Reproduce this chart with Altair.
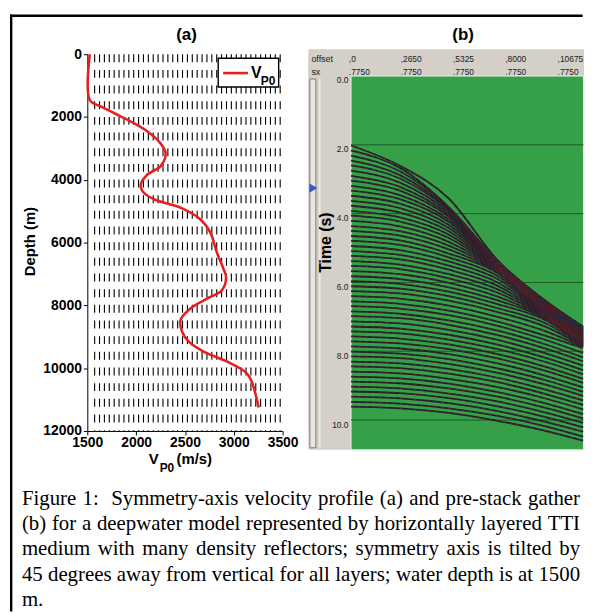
import altair as alt
import pandas as pd

FONT = "Liberation Sans"
SERIF = "Liberation Serif"

# ---------------- panel (a): symmetry-axis velocity profile ----------------
depth_m = [0, 1460, 1670, 1880, 2145, 2460, 2780, 3145, 3565, 3830, 4150, 4360,
           4620, 4885, 5255, 5675, 6310, 6835, 7100, 7520, 7785, 8100, 8470,
           8840, 9155, 9470, 9785, 10155, 10420, 11250]
vp0_ms = [1525, 1525, 1642, 1777, 1947, 2116, 2234, 2302, 2251, 2116, 2048, 2065,
          2183, 2454, 2657, 2759, 2826, 2894, 2921, 2877, 2725, 2556, 2454,
          2471, 2539, 2691, 2928, 3131, 3182, 3255]
vel_ticks = [1500, 2000, 2500, 3000, 3500]
depth_ticks = [0, 2000, 4000, 6000, 8000, 10000, 12000]
hatch_vel = list(range(1575, 3476, 50))   # dashed density-reflector texture columns

# ---------------- panel (b): pre-stack gather ----------------
header_offsets = [0, 2650, 5325, 8000, 10675]
header_offset_text = [",0", ",2650", ",5325", ",8000", ",10675"]
header_sx_text = [".7750", ".7750", ".7750", ".7750", ".7750"]
time_ticks = [0, 2, 4, 6, 8, 10]
time_tick_text = ["0.0", "2.0", "4.0", "6.0", "8.0", "10.0"]
timing_lines = [2, 4, 6, 8, 10]
trace_offsets = [0, 2500, 5000, 7500, 10000, 11870]
reflector_times = [
    [2.02, 2.61, 3.56, 5.36, 6.55, 7.28],
    [2.17, 2.67, 3.81, 5.38, 6.57, 7.30],
    [2.31, 2.77, 3.83, 5.40, 6.59, 7.32],
    [2.46, 2.88, 3.87, 5.42, 6.61, 7.34],
    [2.60, 2.98, 3.91, 5.44, 6.63, 7.36],
    [2.75, 3.10, 3.97, 5.46, 6.65, 7.38],
    [2.90, 3.22, 4.03, 5.48, 6.67, 7.40],
    [3.04, 3.33, 4.09, 5.50, 6.69, 7.42],
    [3.19, 3.46, 4.17, 5.52, 6.71, 7.44],
    [3.33, 3.58, 4.24, 5.54, 6.73, 7.46],
    [3.48, 3.71, 4.33, 5.56, 6.75, 7.48],
    [3.63, 3.84, 4.42, 5.58, 6.77, 7.50],
    [3.77, 3.97, 4.51, 5.60, 6.79, 7.52],
    [3.92, 4.11, 4.61, 5.62, 6.81, 7.54],
    [4.06, 4.23, 4.71, 5.64, 6.83, 7.56],
    [4.21, 4.37, 4.82, 5.66, 6.85, 7.58],
    [4.36, 4.51, 4.93, 5.68, 6.87, 7.60],
    [4.50, 4.64, 5.04, 5.70, 6.89, 7.62],
    [4.65, 4.78, 5.16, 5.73, 6.91, 7.64],
    [4.79, 4.91, 5.27, 5.81, 6.93, 7.66],
    [4.94, 5.06, 5.39, 5.90, 6.95, 7.68],
    [5.09, 5.20, 5.51, 6.00, 6.97, 7.70],
    [5.23, 5.33, 5.63, 6.10, 6.99, 7.72],
    [5.38, 5.48, 5.76, 6.20, 7.01, 7.74],
    [5.52, 5.61, 5.88, 6.30, 7.03, 7.76],
    [5.67, 5.76, 6.01, 6.41, 7.05, 7.78],
    [5.82, 5.90, 6.14, 6.52, 7.07, 7.80],
    [5.96, 6.04, 6.27, 6.63, 7.11, 7.82],
    [6.11, 6.18, 6.40, 6.75, 7.20, 7.84],
    [6.25, 6.32, 6.53, 6.86, 7.30, 7.86],
    [6.40, 6.47, 6.67, 7.00, 7.43, 7.88],
    [6.55, 6.62, 6.82, 7.14, 7.56, 7.91],
    [6.69, 6.76, 6.95, 7.26, 7.68, 8.05],
    [6.84, 6.91, 7.10, 7.40, 7.81, 8.18],
    [6.98, 7.04, 7.23, 7.53, 7.93, 8.29],
    [7.13, 7.19, 7.38, 7.67, 8.07, 8.42],
    [7.28, 7.34, 7.52, 7.81, 8.20, 8.55],
    [7.42, 7.48, 7.66, 7.94, 8.32, 8.67],
    [7.57, 7.63, 7.80, 8.08, 8.46, 8.80],
    [7.71, 7.77, 7.94, 8.21, 8.58, 8.92],
    [7.86, 7.92, 8.08, 8.35, 8.72, 9.05],
    [8.01, 8.07, 8.23, 8.50, 8.85, 9.18],
    [8.15, 8.20, 8.37, 8.63, 8.98, 9.30],
    [8.30, 8.35, 8.51, 8.77, 9.12, 9.43],
    [8.44, 8.49, 8.65, 8.90, 9.25, 9.56],
    [8.59, 8.64, 8.80, 9.04, 9.38, 9.69],
    [8.74, 8.79, 8.94, 9.19, 9.52, 9.83],
    [8.88, 8.93, 9.08, 9.32, 9.65, 9.95],
    [9.03, 9.08, 9.23, 9.46, 9.79, 10.08],
    [9.17, 9.22, 9.36, 9.60, 9.92, 10.21],
    [9.32, 9.37, 9.51, 9.74, 10.06, 10.34],
    [9.47, 9.52, 9.66, 9.88, 10.19, 10.48],
    [9.61, 9.66, 9.79, 10.02, 10.32, 10.60],
]

caption_lines = [
    "Figure 1:  Symmetry-axis velocity profile (a) and pre-stack gather",
    "(b) for a deepwater model represented by horizontally layered TTI",
    "medium with many density reflectors; symmetry axis is tilted by",
    "45 degrees away from vertical for all layers; water depth is at 1500",
    "m.",
]

# ======================= panel (a) =======================
A_W, A_H = 197, 380
one = pd.DataFrame({"k": [0]})

def ax_x(field):
    return alt.X(f"{field}:Q",
                 scale=alt.Scale(domain=[1500, 3500], nice=False, zero=False),
                 axis=alt.Axis(values=vel_ticks, title=None, grid=False, format="d",
                               labelFont=FONT, labelFontWeight="bold", labelFontSize=14,
                               labelColor="black", domainColor="black", tickColor="black",
                               tickSize=4, labelPadding=1, labelFlush=False,
                               labelOverlap=False))

def ax_y(field):
    return alt.Y(f"{field}:Q",
                 scale=alt.Scale(domain=[0, 12000], reverse=True, nice=False, zero=False),
                 axis=alt.Axis(values=depth_ticks, title=None, grid=False, format="d",
                               labelFont=FONT, labelFontWeight="bold", labelFontSize=14,
                               labelColor="black", domainColor="black", tickColor="black",
                               tickSize=4, labelPadding=2, labelFlush=False,
                               labelOverlap=False))

df_a = pd.DataFrame({"depth": depth_m, "vp": vp0_ms})
df_hatch = pd.DataFrame({"vp": hatch_vel, "d0": [0] * len(hatch_vel),
                         "d1": [12000] * len(hatch_vel)})

hatch = alt.Chart(df_hatch).mark_rule(color="black", strokeWidth=1.1,
                                      strokeDash=[8, 7.8]).encode(
    x=ax_x("vp"), y=ax_y("d0"), y2="d1")

vcurve = alt.Chart(df_a).mark_line(color="#e62020", strokeWidth=2.6,
                                   interpolate="catmull-rom").encode(
    x=ax_x("vp"), y=ax_y("depth"), order=alt.Order("depth:Q"))

def txt(text, x, y, size, weight="bold", font=FONT, align="left",
        baseline="alphabetic", angle=0, color="black"):
    kw = dict(text=text, font=font, fontSize=size, fontWeight=weight, align=align,
              baseline=baseline, color=color)
    if angle:
        kw["angle"] = angle
    return alt.Chart(one).mark_text(**kw).encode(x=alt.value(x), y=alt.value(y))

leg_box = alt.Chart(one).mark_rect(fill="white", stroke="black", strokeWidth=1.4).encode(
    x=alt.value(132), x2=alt.value(193), y=alt.value(4), y2=alt.value(33))
leg_line = alt.Chart(one).mark_rule(color="#e62020", strokeWidth=2.6).encode(
    x=alt.value(137), x2=alt.value(162), y=alt.value(19))

frame_left = alt.Chart(one).mark_rule(color="black", strokeWidth=2.4).encode(
    x=alt.value(-76.8), y=alt.value(-40), y2=alt.value(562))
frame_top = alt.Chart(one).mark_rule(color="black", strokeWidth=2.4).encode(
    x=alt.value(-78), x2=alt.value(499.6), y=alt.value(-38.8))

# ---- justified caption: each word placed using Times/Liberation Serif advance widths
CAP_SIZE = 21
CAP_X0, CAP_X1 = -66, 497          # left / right margin of the text block (panel coords)
CAP_Y0, CAP_LH = 455, 25.3
ADV = {" ": 250, "a": 444, "b": 500, "c": 444, "d": 500, "e": 444, "f": 333, "g": 500,
       "h": 500, "i": 278, "k": 500, "l": 278, "m": 778, "n": 500, "o": 500, "p": 500,
       "r": 333, "s": 389, "t": 278, "u": 500, "v": 500, "w": 722, "x": 500, "y": 500,
       "z": 444, "F": 556, "S": 556, "T": 611, "I": 333, "0": 500, "1": 500, "4": 500,
       "5": 500, ":": 278, ";": 278, "(": 333, ")": 333, "-": 333, ".": 250}

def word_w(w):
    return sum(ADV.get(c, 500) for c in w) * CAP_SIZE / 1000.0

caption_layers = []
for li, line in enumerate(caption_lines):
    y = CAP_Y0 + li * CAP_LH
    if li == len(caption_lines) - 1:
        caption_layers.append(txt(line, CAP_X0, y, CAP_SIZE, weight="normal", font=SERIF))
        continue
    parts = line.split(" ")
    words, weights = [], []
    for p in parts:
        if p == "":
            weights[-1] += 1
        else:
            words.append(p)
            weights.append(1)
    weights = weights[:-1]
    free = (CAP_X1 - CAP_X0) - sum(word_w(w) for w in words)
    unit = free / sum(weights)
    x = CAP_X0
    for wi, w in enumerate(words):
        caption_layers.append(txt(w, x, y, CAP_SIZE, weight="normal", font=SERIF))
        if wi < len(weights):
            x += word_w(w) + unit * weights[wi]

panel_a = alt.layer(
    hatch, vcurve, leg_box, leg_line,
    txt("V", 165, 23.5, 16), txt("P0", 175, 31, 12),
    txt("(a)", 100, -19, 17, align="center", baseline="middle"),
    txt("Depth (m)", -58, 189, 15, align="center", baseline="middle", angle=270),
    txt("V", 62, 413, 15), txt("P0", 73, 421, 12), txt("(m/s)", 90, 413, 15),
    frame_left, frame_top, *caption_layers,
).properties(width=A_W, height=A_H, view=alt.ViewBackground(stroke=None))

# ======================= panel (b) =======================
B_W, B_H = 278, 380
XD = [-2180, 11917]
YD = [-0.634, 10.317]
GREEN_END = 11890

def bx(field):
    return alt.X(f"{field}:Q", scale=alt.Scale(domain=XD, nice=False, zero=False), axis=None)

def by(field):
    return alt.Y(f"{field}:Q", scale=alt.Scale(domain=YD, reverse=True, nice=False,
                                              zero=False), axis=None)

gray_bg = alt.Chart(one).mark_rect(fill="#d4d0c8").encode(
    x=alt.value(0), x2=alt.value(B_W), y=alt.value(-5), y2=alt.value(399))

df_green = pd.DataFrame({"o1": [0], "o2": [GREEN_END], "t1": [0.0], "t2": [10.865]})
green = alt.Chart(df_green).mark_rect(fill="#36a048", stroke="#eeeeea",
                                      strokeWidth=1).encode(
    x=bx("o1"), x2="o2", y=by("t1"), y2="t2")

df_tl = pd.DataFrame({"t": timing_lines, "o1": [0] * 5, "o2": [GREEN_END] * 5})
tlines = alt.Chart(df_tl).mark_rule(color="#1f5a28", strokeWidth=1).encode(
    x=bx("o1"), x2="o2", y=by("t"))

rows = []
for i, times in enumerate(reflector_times):
    for off, t in zip(trace_offsets, times):
        rows.append({"r": i, "off": off, "t": t})
df_c = pd.DataFrame(rows)
curves = alt.Chart(df_c).mark_line(color="#221e2c", strokeWidth=1.8,
                                   interpolate="monotone").encode(
    x=bx("off"), y=by("t"), detail="r:N")
curves_red = alt.Chart(df_c).mark_line(color="#b03030", strokeWidth=0.7,
                                       strokeDash=[3, 4], opacity=0.55,
                                       interpolate="monotone").encode(
    x=bx("off"), y=by("t"), detail="r:N")

df_tt = pd.DataFrame({"t": time_ticks, "lab": time_tick_text, "o": [0] * 6})
tlabels = alt.Chart(df_tt).mark_text(font=FONT, fontSize=8.5, align="right",
                                     baseline="top", dx=-2.5, dy=0.5,
                                     color="#202020").encode(
    x=bx("o"), y=by("t"), text="lab:N")

df_h = pd.DataFrame({"o": header_offsets, "a": header_offset_text, "b": header_sx_text})
hdr1 = alt.Chart(df_h).mark_text(font=FONT, fontSize=8.5, align="left", dx=-2.2,
                                 baseline="alphabetic", color="#202020", clip=True).encode(
    x=bx("o"), y=alt.value(8.3), text="a:N")
hdr2 = alt.Chart(df_h).mark_text(font=FONT, fontSize=8.5, align="left", dx=-2.2,
                                 baseline="alphabetic", color="#202020", clip=True).encode(
    x=bx("o"), y=alt.value(20.8), text="b:N")

slider = alt.Chart(one).mark_rect(fill="#e9e7e2", stroke="#7b7b7b", strokeWidth=1).encode(
    x=alt.value(1.5), x2=alt.value(7.5), y=alt.value(25), y2=alt.value(397))
slider_hl = alt.Chart(one).mark_rule(color="#f7f7f5", strokeWidth=1.2).encode(
    x=alt.value(11.5), y=alt.value(25), y2=alt.value(397))
thumb = alt.Chart(one).mark_point(shape="triangle-right", filled=True, fill="#3656cc",
                                  size=85, opacity=1).encode(
    x=alt.value(5), y=alt.value(135))

panel_b = alt.layer(
    gray_bg, green, tlines, curves, curves_red, tlabels, hdr1, hdr2,
    slider, slider_hl, thumb,
    txt("offset", 3, 8.3, 9, weight="normal", color="#202020"),
    txt("sx", 3, 20.8, 9, weight="normal", color="#202020"),
    txt("Time (s)", 18, 190, 16, align="center", baseline="middle", angle=270),
    txt("(b)", 156, -19, 17, align="center", baseline="middle"),
).properties(width=B_W, height=B_H,
             view=alt.ViewBackground(fill="#d4d0c8", stroke=None))

chart = alt.hconcat(panel_a, panel_b, spacing=26, bounds="flush").properties(
    padding={"left": 0, "top": 2, "right": 0, "bottom": 0},
    background="white",
).configure_concat(spacing=26)

chart.save("out.html", embed_options={"renderer": "svg", "actions": False})
